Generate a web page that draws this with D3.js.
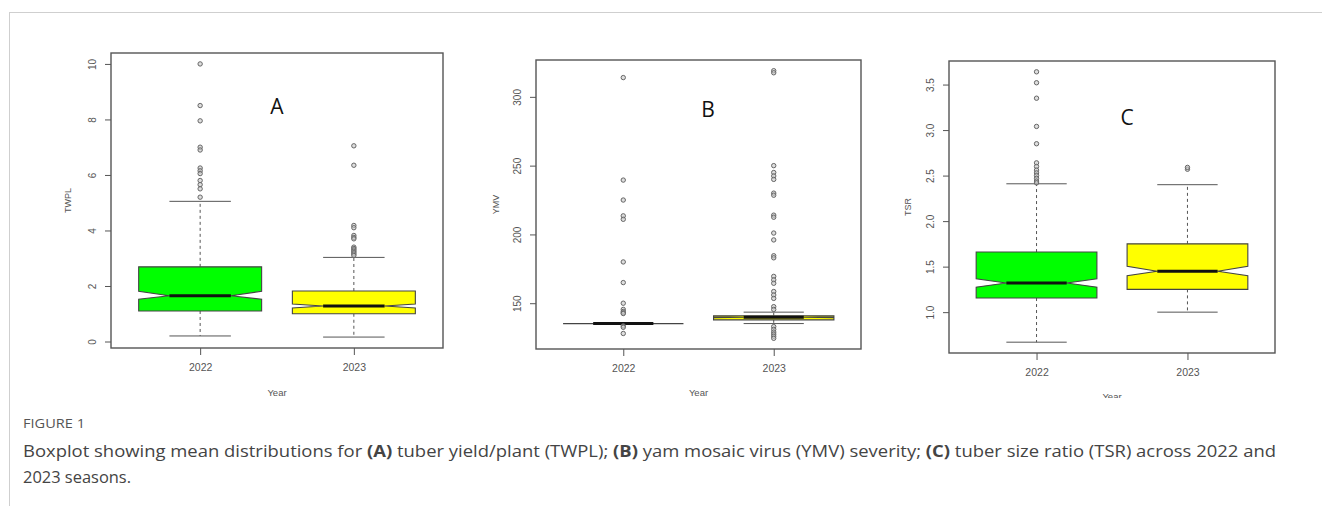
<!DOCTYPE html>
<html><head><meta charset="utf-8">
<script src="https://cdn.jsdelivr.net/npm/d3@7"></script>
<style>
body{margin:0;background:#fff;}
svg{display:block;font-family:"Liberation Sans",Arial,sans-serif;}
</style>
</head><body>
<svg id="chart" width="1322" height="506"></svg>
<script>
// ---------------- DATA ----------------
const years = ["2022", "2023"];
// five-number summaries per year: [lower whisker, Q1, median, Q3, upper whisker]
const twplStats = [[0.20, 1.10, 1.65, 2.69, 5.05], [0.16, 1.00, 1.28, 1.82, 3.03]];
const twplNotch = [[1.52, 1.81], [1.21, 1.35]];
const twplOut2022 = [10.0, 8.5, 7.95, 7.0, 6.9, 6.25, 6.15, 6.05, 5.8, 5.65, 5.5, 5.2];
const twplOut2023 = [7.05, 6.35, 4.18, 4.1, 3.82, 3.75, 3.7, 3.4, 3.35, 3.3, 3.25, 3.2, 3.15, 3.1];
const twplTicks = [0, 2, 4, 6, 8, 10];
const twplTickLabels = ["0", "2", "4", "6", "8", "10"];

const ymvStats = [[135.2, 135.2, 135.2, 135.2, 135.2], [135.2, 137.9, 139.8, 140.9, 143.5]];
const ymvNotch = [[135.2, 135.2], [139.4, 140.2]];
const ymvOut2022 = [314, 239.5, 225, 213.5, 211, 180, 165, 150, 145.5, 144, 143, 142.5, 133.5, 132.5, 128];
const ymvOut2023 = [319, 317.5, 250, 245, 242.5, 240, 230, 228.5, 214, 212.5, 201, 196, 184.5, 183,
                    169.5, 167, 164.5, 158.5, 156, 153.5, 147.5, 145.5, 133, 131, 129, 127.5, 126, 124.5];
const ymvTicks = [150, 200, 250, 300];
const ymvTickLabels = ["150", "200", "250", "300"];

const tsrStats = [[0.67, 1.155, 1.32, 1.66, 2.41], [1.00, 1.25, 1.45, 1.75, 2.40]];
const tsrNotch = [[1.275, 1.367], [1.40, 1.505]];
const tsrOut2022 = [3.64, 3.52, 3.35, 3.04, 2.85, 2.64, 2.6, 2.56, 2.53, 2.5, 2.47, 2.44, 2.42];
const tsrOut2023 = [2.57, 2.59];
const tsrTicks = [1.0, 1.5, 2.0, 2.5, 3.0, 3.5];
const tsrTickLabels = ["1.0", "1.5", "2.0", "2.5", "3.0", "3.5"];

const yTitles = ["TWPL", "YMV", "TSR"];
const panelLetters = ["A", "B", "C"];
const xTitle = "Year";
const boxFills = ["#00ff00", "#ffff00"];
const captionHead = "FIGURE 1";
const captionLine1 = [["Boxplot showing mean distributions for ", false], ["(A)", true], [" tuber yield/plant (TWPL); ", false],
  ["(B)", true], [" yam mosaic virus (YMV) severity; ", false], ["(C)", true],
  [" tuber size ratio (TSR) across 2022 and", false]];
const captionLine2 = "2023 seasons.";

// ---------------- LAYOUT ----------------
const layout = [
  {left: 111, right: 443, top: 53, bottom: 348, letter: [277, 107], yTitleX: 68, xTitleY: 393, clip: 506},
  {left: 536, right: 861, top: 60, bottom: 349, letter: [708, 110], yTitleX: 496, xTitleY: 393, clip: 506},
  {left: 949, right: 1275, top: 61, bottom: 353, letter: [1127, 118], yTitleX: 908, xTitleY: 397, clip: 398}
];
const panelData = [
  {stats: twplStats, notch: twplNotch, out: [twplOut2022, twplOut2023], ticks: twplTicks, tickLabels: twplTickLabels},
  {stats: ymvStats, notch: ymvNotch, out: [ymvOut2022, ymvOut2023], ticks: ymvTicks, tickLabels: ymvTickLabels},
  {stats: tsrStats, notch: tsrNotch, out: [tsrOut2022, tsrOut2023], ticks: tsrTicks, tickLabels: tsrTickLabels}
];

const svg = d3.select("#chart");
const defs = svg.append("defs");

// outer figure frame
svg.append("line").attr("x1", 9).attr("x2", 1322).attr("y1", 12.5).attr("y2", 12.5)
  .attr("stroke", "#cfcfcf").attr("stroke-width", 1);
svg.append("line").attr("x1", 9.5).attr("x2", 9.5).attr("y1", 12).attr("y2", 506)
  .attr("stroke", "#cfcfcf").attr("stroke-width", 1);

const axisColor = "#555";
const lineColor = "#444";

panelData.forEach((pd, pi) => {
  const L = layout[pi];
  defs.append("clipPath").attr("id", "clip" + pi).append("rect")
    .attr("x", L.left - 120).attr("y", 0).attr("width", L.right - L.left + 200).attr("height", L.clip);
  const g = svg.append("g").attr("clip-path", `url(#clip${pi})`);

  const x = d3.scaleLinear().domain([0.42, 2.58]).range([L.left, L.right]);
  const allVals = pd.stats.flat().concat(pd.out.flat());
  const lo = d3.min(allVals), hi = d3.max(allVals);
  const ext = (hi - lo) * 0.04;
  const y = d3.scaleLinear().domain([lo - ext, hi + ext]).range([L.bottom, L.top]);
  const hw = (x(1.4) - x(1.0));

  // y axis
  const ya = g.append("g").attr("transform", `translate(${L.left},0)`)
    .call(d3.axisLeft(y).tickValues(pd.ticks).tickSize(6).tickFormat((d, i) => pd.tickLabels[i]));
  ya.select(".domain").remove();
  ya.selectAll(".tick line").attr("stroke", axisColor);
  ya.selectAll(".tick text").attr("x", null).attr("dy", null)
    .attr("transform", "translate(-15.5,0) rotate(-90)")
    .attr("text-anchor", "middle").attr("fill", axisColor)
    .style("font-size", "10px").style("font-family", "Liberation Sans, Arial, sans-serif");

  // x axis
  const xa = g.append("g").attr("transform", `translate(0,${L.bottom})`)
    .call(d3.axisBottom(x).tickValues([1, 2]).tickSize(7).tickFormat((d, i) => years[i]));
  xa.select(".domain").remove();
  xa.selectAll(".tick line").attr("stroke", axisColor);
  xa.selectAll(".tick text").attr("y", 16).attr("fill", axisColor)
    .style("font-size", "10.5px").style("font-family", "Liberation Sans, Arial, sans-serif");

  // plot frame
  g.append("rect").attr("x", L.left).attr("y", L.top)
    .attr("width", L.right - L.left).attr("height", L.bottom - L.top)
    .attr("fill", "none").attr("stroke", "#555").attr("stroke-width", 1.4);

  // boxes
  pd.stats.forEach((s, i) => {
    const cx = x(i + 1);
    const [wl, q1, med, q3, wh] = s.map(y);
    const nlo = y(pd.notch[i][0]), nhi = y(pd.notch[i][1]);
    g.append("line").attr("x1", cx).attr("x2", cx).attr("y1", q3).attr("y2", wh)
      .attr("stroke", "#555").attr("stroke-dasharray", "3,3");
    g.append("line").attr("x1", cx).attr("x2", cx).attr("y1", q1).attr("y2", wl)
      .attr("stroke", "#555").attr("stroke-dasharray", "3,3");
    [wl, wh].forEach(v => g.append("line").attr("x1", cx - hw / 2).attr("x2", cx + hw / 2)
      .attr("y1", v).attr("y2", v).attr("stroke", "#555").attr("stroke-width", 1));
    const xl = cx - hw, xr = cx + hw, xml = cx - hw / 2, xmr = cx + hw / 2;
    const pts = [[xl, q1], [xl, nlo], [xml, med], [xl, nhi], [xl, q3], [xr, q3], [xr, nhi], [xmr, med], [xr, nlo], [xr, q1]];
    g.append("polygon").attr("points", pts.map(p => p.join(",")).join(" "))
      .attr("fill", boxFills[i]).attr("stroke", lineColor).attr("stroke-width", 1.1);
    g.append("line").attr("x1", xml).attr("x2", xmr).attr("y1", med).attr("y2", med)
      .attr("stroke", "#111").attr("stroke-width", 3);
    g.selectAll(null).data(pd.out[i]).enter().append("circle")
      .attr("cx", cx).attr("cy", d => y(d)).attr("r", 2.2)
      .attr("fill", "#c8c8c8").attr("fill-opacity", 0.6).attr("stroke", "#666").attr("stroke-width", 1);
  });

  // axis titles
  g.append("text").attr("transform", `translate(${L.yTitleX},${(L.top + L.bottom) / 2}) rotate(-90)`)
    .attr("text-anchor", "middle").attr("dy", "0.35em").attr("fill", axisColor)
    .style("font-size", "9px").text(yTitles[pi]);
  g.append("text").attr("x", (L.left + L.right) / 2).attr("y", L.xTitleY).attr("dy", "0.35em")
    .attr("text-anchor", "middle").attr("fill", axisColor).style("font-size", "9.5px").text(xTitle);

  // panel letter
  g.append("text").attr("x", L.letter[0]).attr("y", L.letter[1]).attr("dy", "0.35em")
    .attr("text-anchor", "middle").attr("fill", "#111")
    .style("font-family", "'Open Sans', sans-serif").style("font-size", "21px").text(panelLetters[pi]);
});

// caption
const cap = svg.append("g").style("font-family", "'Open Sans', sans-serif");
cap.append("text").attr("x", 23).attr("y", 428).attr("fill", "#555")
  .attr("textLength", 62).attr("lengthAdjust", "spacingAndGlyphs")
  .style("font-size", "13px").text(captionHead);
const line1 = cap.append("text").attr("x", 23).attr("y", 457).attr("fill", "#444")
  .attr("textLength", 1253).attr("lengthAdjust", "spacingAndGlyphs")
  .style("font-size", "16.5px");
captionLine1.forEach(([t, b]) => {
  line1.append("tspan").attr("font-weight", b ? 700 : 400).text(t);
});
cap.append("text").attr("x", 23).attr("y", 483).attr("fill", "#444")
  .attr("textLength", 108).attr("lengthAdjust", "spacingAndGlyphs")
  .style("font-size", "16.5px").text(captionLine2);
</script>
</body></html>
